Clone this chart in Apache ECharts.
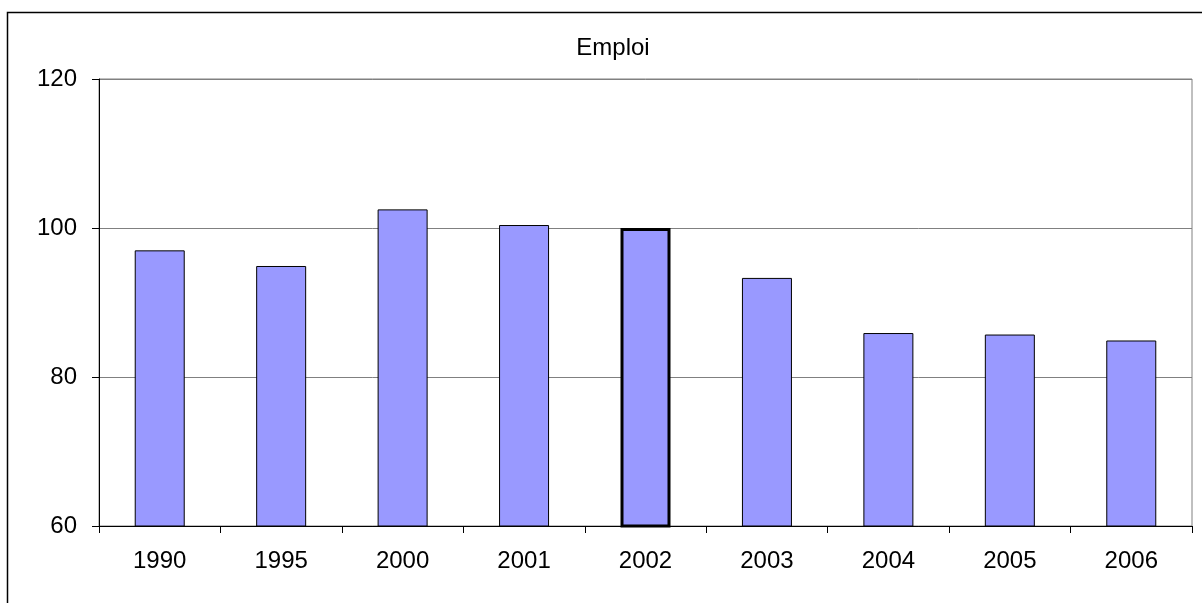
<!DOCTYPE html>
<html>
<head>
<meta charset="utf-8">
<script src="https://cdn.jsdelivr.net/npm/echarts@6/dist/echarts.min.js"></script>
<style>
  html, body { margin: 0; padding: 0; background: #fff; }
  #chart { width: 1202px; height: 603px; }
</style>
</head>
<body>
<div id="chart"></div>
<script>
// Employment index by year (2002 = 100)
const years = ['1990', '1995', '2000', '2001', '2002', '2003', '2004', '2005', '2006'];
const emploi = [97.0, 94.9, 102.5, 100.4, 100.0, 93.3, 85.9, 85.7, 84.9];
const baseYear = '2002';

const font = 'Liberation Sans, Arial, sans-serif';

const barData = years.map((y, i) => ({
  value: emploi[i],
  itemStyle: y === baseYear ? { borderWidth: 3 } : {}
}));

const chart = echarts.init(document.getElementById('chart'), null, { renderer: 'canvas' });
chart.setOption({
  animation: false,
  backgroundColor: '#ffffff',
  title: {
    text: 'Emploi',
    left: 608,
    top: 31,
    textAlign: 'center',
    textStyle: { fontFamily: font, fontSize: 24, fontWeight: 'normal', color: '#000' }
  },
  graphic: [{
    type: 'rect',
    shape: { x: 7.5, y: 12.5, width: 1300, height: 700 },
    style: { fill: 'none', stroke: '#000', lineWidth: 1.5 },
    silent: true
  }],
  grid: {
    left: 99, right: 10, top: 79, bottom: 77,
    show: true, borderColor: '#808080', borderWidth: 1, backgroundColor: 'transparent'
  },
  xAxis: {
    type: 'category',
    data: years,
    axisLine: { lineStyle: { color: '#000', width: 1 } },
    axisTick: { show: true, length: 7, lineStyle: { color: '#000' } },
    axisLabel: { margin: 23, fontFamily: font, fontSize: 24, color: '#000' }
  },
  yAxis: {
    type: 'value',
    min: 60, max: 120, interval: 20,
    axisLine: { show: true, lineStyle: { color: '#000', width: 1 } },
    axisTick: { show: true, length: 7, lineStyle: { color: '#000' } },
    axisLabel: { margin: 22, fontFamily: font, fontSize: 24, color: '#000' },
    splitLine: { show: true, lineStyle: { color: '#808080', width: 1 } }
  },
  series: [{
    type: 'bar',
    data: barData,
    barWidth: 50,
    itemStyle: { color: '#9999FF', borderColor: '#000', borderWidth: 1 }
  }]
});
</script>
</body>
</html>
